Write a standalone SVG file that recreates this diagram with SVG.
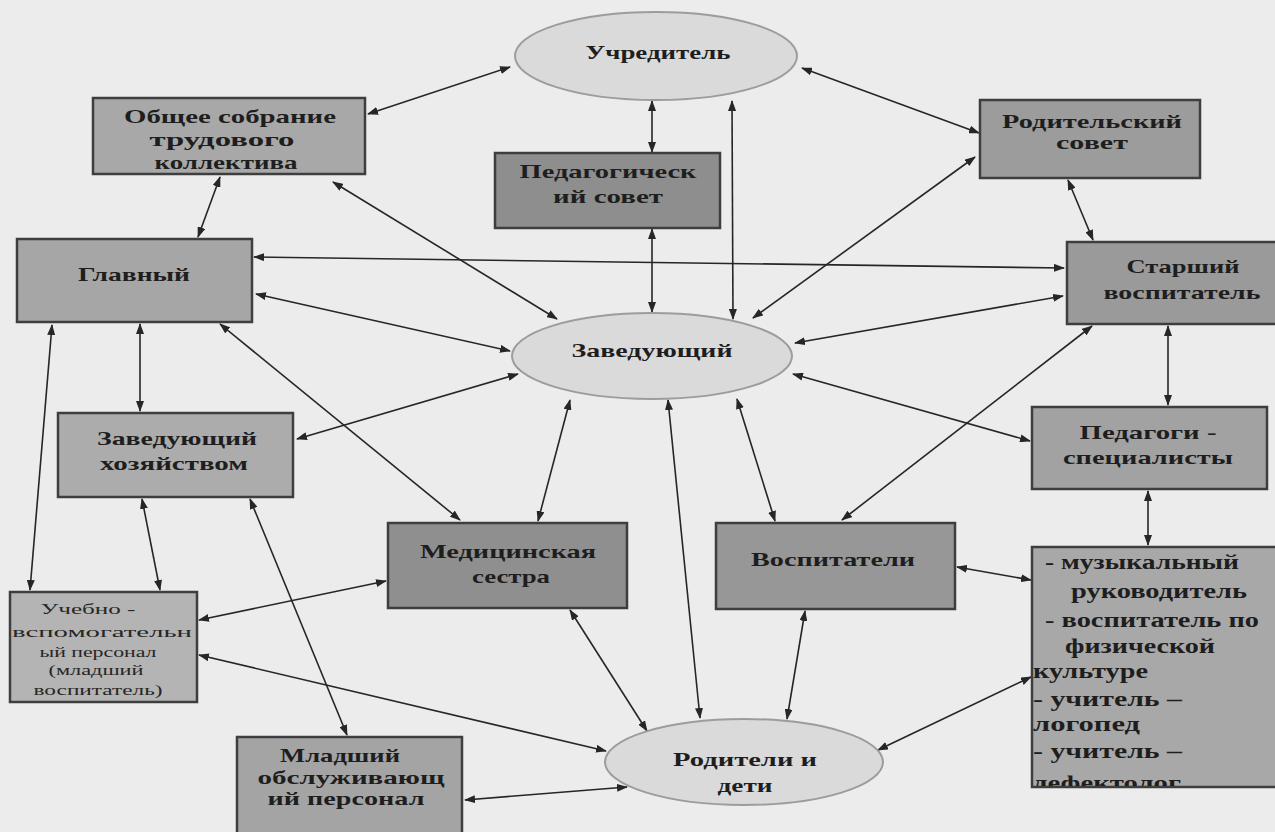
<svg xmlns="http://www.w3.org/2000/svg" width="1275" height="832" viewBox="0 0 1275 832">
<defs>
<style>
.bx{stroke:#3e3e3e;stroke-width:2.5}
.el{fill:#dadada;stroke:#9c9c9c;stroke-width:2}
.t{font-family:"Liberation Serif","Times New Roman",serif;font-weight:bold;font-size:19px;fill:#1e1e1e;text-anchor:middle}
.ts{font-family:"Liberation Serif","Times New Roman",serif;font-size:15px;fill:#262626;text-anchor:middle}
.tl{font-family:"Liberation Serif","Times New Roman",serif;font-weight:bold;font-size:20px;fill:#1e1e1e}
.c line{stroke:#262626;stroke-width:1.6;marker-start:url(#ah);marker-end:url(#ah)}
</style>
<marker id="ah" markerUnits="userSpaceOnUse" markerWidth="11" markerHeight="8" refX="10" refY="4" orient="auto-start-reverse">
<path d="M0,0 L11,4 L0,8 z" fill="#262626"/>
</marker>
<clipPath id="clipList"><rect x="1033" y="548" width="250" height="238"/></clipPath>
</defs>
<rect x="0" y="0" width="1275" height="832" fill="#ececec"/>

<g id="connectors" class="c">
<line x1="510" y1="67" x2="368" y2="114"/>
<line x1="652" y1="101" x2="652" y2="152"/>
<line x1="732" y1="101" x2="733" y2="319"/>
<line x1="802" y1="68" x2="979" y2="133"/>
<line x1="220" y1="177" x2="198" y2="237"/>
<line x1="333" y1="182" x2="557" y2="319"/>
<line x1="652" y1="229" x2="652" y2="312"/>
<line x1="975" y1="157" x2="753" y2="318"/>
<line x1="1068" y1="180" x2="1093" y2="240"/>
<line x1="254" y1="257" x2="1064" y2="268"/>
<line x1="256" y1="294" x2="510" y2="351"/>
<line x1="1063" y1="296" x2="795" y2="343"/>
<line x1="140" y1="324" x2="140" y2="411"/>
<line x1="52" y1="325" x2="30" y2="590"/>
<line x1="220" y1="324" x2="460" y2="520"/>
<line x1="518" y1="374" x2="297" y2="439"/>
<line x1="1168" y1="326" x2="1168" y2="405"/>
<line x1="1092" y1="326" x2="842" y2="520"/>
<line x1="793" y1="374" x2="1030" y2="441"/>
<line x1="570" y1="400" x2="538" y2="521"/>
<line x1="668" y1="400" x2="700" y2="718"/>
<line x1="737" y1="399" x2="775" y2="521"/>
<line x1="1148" y1="491" x2="1148" y2="545"/>
<line x1="142" y1="499" x2="160" y2="590"/>
<line x1="250" y1="499" x2="347" y2="735"/>
<line x1="199" y1="620" x2="386" y2="581"/>
<line x1="199" y1="655" x2="606" y2="751"/>
<line x1="570" y1="610" x2="647" y2="731"/>
<line x1="805" y1="611" x2="787" y2="719"/>
<line x1="957" y1="567" x2="1031" y2="580"/>
<line x1="878" y1="750" x2="1031" y2="677"/>
<line x1="465" y1="800" x2="627" y2="787"/>
</g>

<g id="uchreditel">
<ellipse class="el" cx="656" cy="56" rx="141" ry="44"/>
<text class="t" x="658" y="59" textLength="145" lengthAdjust="spacingAndGlyphs">Учредитель</text>
</g>

<g id="obshchee-sobranie">
<rect class="bx" x="93" y="98" width="272" height="76" fill="#a8a8a8"/>
<text class="t" x="230" y="123" textLength="212" lengthAdjust="spacingAndGlyphs">Общее собрание</text>
<text class="t" x="222" y="146" textLength="145" lengthAdjust="spacingAndGlyphs">трудового</text>
<text class="t" x="226" y="169" textLength="143" lengthAdjust="spacingAndGlyphs">коллектива</text>
</g>

<g id="pedsovet">
<rect class="bx" x="495" y="153" width="225" height="75" fill="#8e8e8e"/>
<text class="t" x="608" y="178" textLength="177" lengthAdjust="spacingAndGlyphs">Педагогическ</text>
<text class="t" x="608" y="203" textLength="110" lengthAdjust="spacingAndGlyphs">ий совет</text>
</g>

<g id="roditelskiy-sovet">
<rect class="bx" x="980" y="100" width="220" height="78" fill="#9c9c9c"/>
<text class="t" x="1092" y="128" textLength="180" lengthAdjust="spacingAndGlyphs">Родительский</text>
<text class="t" x="1092" y="149" textLength="72" lengthAdjust="spacingAndGlyphs">совет</text>
</g>

<g id="glavnyy">
<rect class="bx" x="17" y="239" width="235" height="83" fill="#a6a6a6"/>
<text class="t" x="134" y="281" textLength="112" lengthAdjust="spacingAndGlyphs">Главный</text>
</g>

<g id="starshiy-vospitatel">
<rect class="bx" x="1067" y="242" width="225" height="82" fill="#9a9a9a"/>
<text class="t" x="1183" y="273" textLength="113" lengthAdjust="spacingAndGlyphs">Старший</text>
<text class="t" x="1182" y="299" textLength="157" lengthAdjust="spacingAndGlyphs">воспитатель</text>
</g>

<g id="zaveduyushchiy">
<ellipse class="el" cx="652" cy="356" rx="140" ry="43"/>
<text class="t" x="652" y="357" textLength="161" lengthAdjust="spacingAndGlyphs">Заведующий</text>
</g>

<g id="pedagogi-specialisty">
<rect class="bx" x="1032" y="407" width="235" height="82" fill="#a2a2a2"/>
<text class="t" x="1148" y="439" textLength="137" lengthAdjust="spacingAndGlyphs">Педагоги -</text>
<text class="t" x="1148" y="464" textLength="170" lengthAdjust="spacingAndGlyphs">специалисты</text>
</g>

<g id="zav-khozyaystvom">
<rect class="bx" x="58" y="413" width="235" height="84" fill="#acacac"/>
<text class="t" x="177" y="445" textLength="160" lengthAdjust="spacingAndGlyphs">Заведующий</text>
<text class="t" x="174" y="470" textLength="148" lengthAdjust="spacingAndGlyphs">хозяйством</text>
</g>

<g id="medsestra">
<rect class="bx" x="388" y="523" width="239" height="85" fill="#8f8f8f"/>
<text class="t" x="508" y="558" textLength="176" lengthAdjust="spacingAndGlyphs">Медицинская</text>
<text class="t" x="511" y="583" textLength="78" lengthAdjust="spacingAndGlyphs">сестра</text>
</g>

<g id="vospitateli">
<rect class="bx" x="716" y="523" width="239" height="86" fill="#979797"/>
<text class="t" x="833" y="566" textLength="164" lengthAdjust="spacingAndGlyphs">Воспитатели</text>
</g>

<g id="specialisty-list">
<rect class="bx" x="1032" y="547" width="260" height="240" fill="#a8a8a8"/>
<g clip-path="url(#clipList)">
<text class="tl" x="1045" y="569" textLength="194" lengthAdjust="spacingAndGlyphs">- музыкальный</text>
<text class="tl" x="1071" y="598" textLength="176" lengthAdjust="spacingAndGlyphs">руководитель</text>
<text class="tl" x="1045" y="627" textLength="214" lengthAdjust="spacingAndGlyphs">- воспитатель по</text>
<text class="tl" x="1065" y="653" textLength="150" lengthAdjust="spacingAndGlyphs">физической</text>
<text class="tl" x="1033" y="678" textLength="115" lengthAdjust="spacingAndGlyphs">культуре</text>
<text class="tl" x="1033" y="706" textLength="149" lengthAdjust="spacingAndGlyphs">- учитель –</text>
<text class="tl" x="1033" y="731" textLength="107" lengthAdjust="spacingAndGlyphs">логопед</text>
<text class="tl" x="1033" y="758" textLength="149" lengthAdjust="spacingAndGlyphs">- учитель –</text>
<text class="tl" x="1033" y="790" textLength="148" lengthAdjust="spacingAndGlyphs">дефектолог</text>
</g>
</g>

<g id="uchebno-vspomogatelnyy">
<rect class="bx" x="10" y="592" width="187" height="110" fill="#b4b4b4"/>
<text class="ts" x="88" y="614" textLength="95" lengthAdjust="spacingAndGlyphs">Учебно -</text>
<text class="ts" x="102" y="637" textLength="180" lengthAdjust="spacingAndGlyphs">вспомогательн</text>
<text class="ts" x="98" y="657" textLength="117" lengthAdjust="spacingAndGlyphs">ый персонал</text>
<text class="ts" x="96" y="675" textLength="95" lengthAdjust="spacingAndGlyphs">(младший</text>
<text class="ts" x="98" y="695" textLength="129" lengthAdjust="spacingAndGlyphs">воспитатель)</text>
</g>

<g id="mladshiy-obsluzhivayushchiy">
<rect class="bx" x="237" y="737" width="225" height="110" fill="#a4a4a4"/>
<text class="t" x="340" y="762" textLength="120" lengthAdjust="spacingAndGlyphs">Младший</text>
<text class="t" x="351" y="784" textLength="187" lengthAdjust="spacingAndGlyphs">обслуживающ</text>
<text class="t" x="346" y="805" textLength="157" lengthAdjust="spacingAndGlyphs">ий персонал</text>
</g>

<g id="roditeli-i-deti">
<ellipse class="el" cx="744" cy="762" rx="139" ry="43"/>
<text class="t" x="745" y="766" textLength="144" lengthAdjust="spacingAndGlyphs">Родители и</text>
<text class="t" x="745" y="792" textLength="55" lengthAdjust="spacingAndGlyphs">дети</text>
</g>
</svg>
